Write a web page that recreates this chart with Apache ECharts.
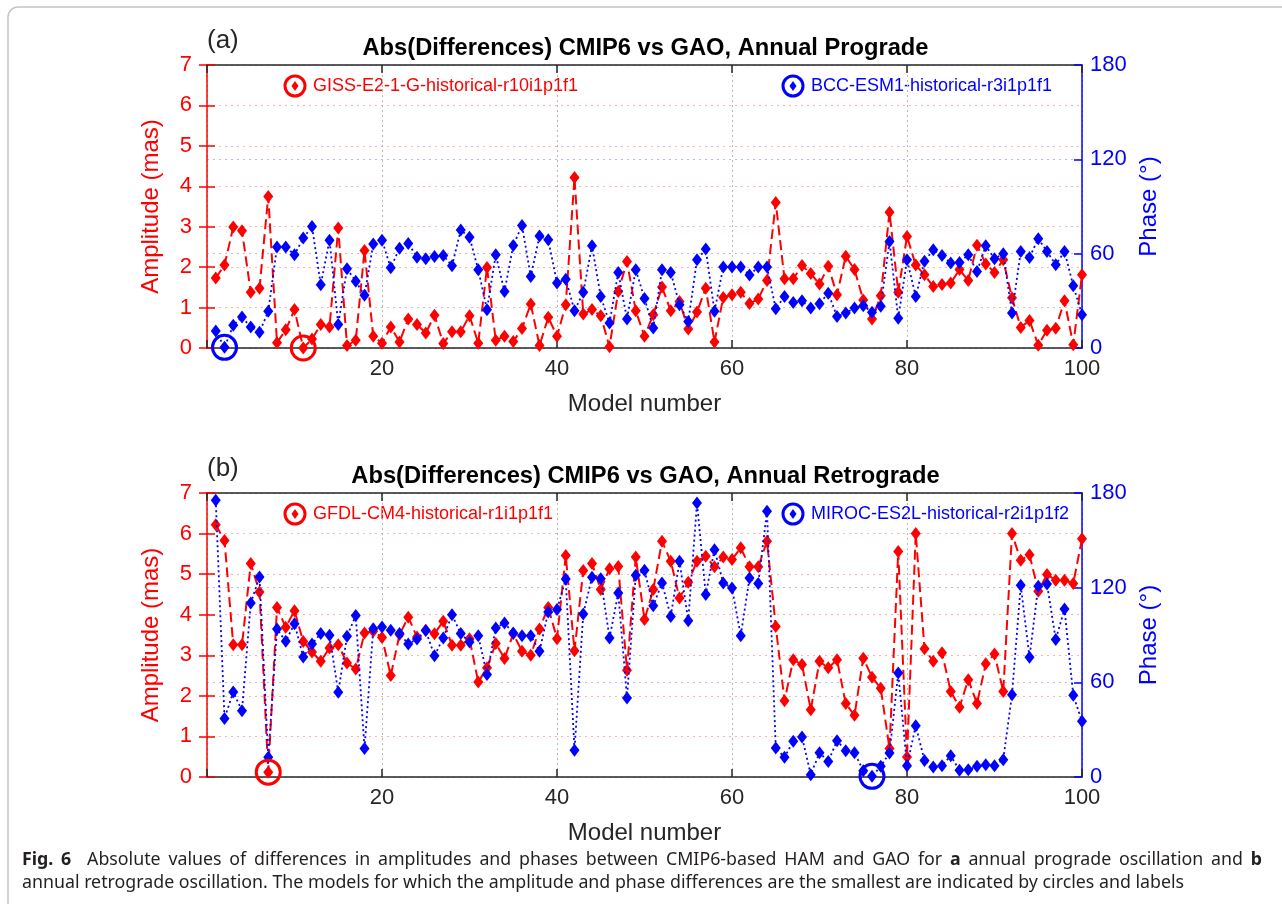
<!DOCTYPE html>
<html>
<head>
<meta charset="utf-8">
<title>Abs(Differences) CMIP6 vs GAO</title>
<script src="https://cdn.jsdelivr.net/npm/echarts@6/dist/echarts.min.js"></script>
<style>
  html, body { margin: 0; padding: 0; background: #ffffff; }
  #chart { width: 1282px; height: 904px; }
</style>
</head>
<body>
<div id="chart"></div>
<script>
// Model numbers 1..100
const models = [
  1,2,3,4,5,6,7,8,9,10,11,12,13,14,15,16,17,18,19,20,
  21,22,23,24,25,26,27,28,29,30,31,32,33,34,35,36,37,38,39,40,
  41,42,43,44,45,46,47,48,49,50,51,52,53,54,55,56,57,58,59,60,
  61,62,63,64,65,66,67,68,69,70,71,72,73,74,75,76,77,78,79,80,
  81,82,83,84,85,86,87,88,89,90,91,92,93,94,95,96,97,98,99,100
];

// (a) Annual prograde: |amplitude difference| (mas)
const progradeAmp = [
  1.73,2.05,2.99,2.90,1.38,1.48,3.75,0.13,0.45,0.95,
  0.00,0.22,0.58,0.52,2.97,0.06,0.19,2.41,0.29,0.12,
  0.52,0.15,0.72,0.58,0.37,0.81,0.11,0.40,0.40,0.80,
  0.12,1.99,0.19,0.29,0.16,0.48,1.09,0.06,0.76,0.29,
  1.07,4.22,0.84,0.95,0.80,0.03,1.40,2.14,0.92,0.29,
  0.82,1.51,0.92,1.15,0.47,0.89,1.48,0.15,1.25,1.32,
  1.38,1.10,1.21,1.67,3.60,1.71,1.71,2.04,1.84,1.58,
  2.02,1.32,2.27,1.94,1.19,0.72,1.29,3.36,1.38,2.76,
  2.05,1.81,1.52,1.57,1.61,1.94,1.67,2.54,2.08,1.87,
  2.18,1.24,0.51,0.68,0.07,0.44,0.49,1.17,0.08,1.81
];

// (a) Annual prograde: |phase difference| (deg)
const progradePhase = [
  10.8,0.4,14.4,19.7,13.3,10.0,23.3,64.2,64.2,59.3,
  69.9,77.3,40.2,68.6,15.0,50.4,42.4,33.5,66.1,68.6,
  51.0,63.5,66.5,57.8,56.8,58.2,58.9,52.3,75.0,70.5,
  49.8,24.4,59.3,36.0,65.2,77.9,45.5,71.2,68.8,41.3,
  43.8,23.7,35.4,65.0,32.8,15.9,48.1,18.4,49.8,31.5,
  12.7,49.8,48.1,27.5,16.9,56.1,62.9,23.3,51.5,51.5,
  51.5,46.4,51.5,51.5,25.0,32.8,29.0,30.1,25.4,28.2,
  34.9,20.1,22.2,25.4,26.9,22.7,26.5,67.8,18.9,56.1,
  32.8,55.1,62.5,58.9,54.0,54.4,59.3,48.7,65.0,56.8,
  59.9,22.2,61.4,57.6,69.5,61.4,53.0,61.4,39.6,21.2
];

// (b) Annual retrograde: |amplitude difference| (mas)
const retrogradeAmp = [
  6.22,5.83,3.26,3.26,5.26,4.56,0.12,4.18,3.69,4.10,
  3.34,3.08,2.85,3.18,3.26,2.81,2.66,3.55,3.59,3.44,
  2.50,3.51,3.94,3.45,3.62,3.53,3.84,3.25,3.25,3.41,
  2.34,2.69,3.29,2.92,3.53,3.10,3.00,3.65,4.18,3.41,
  5.46,3.11,5.09,5.26,4.62,5.13,5.19,2.63,5.42,3.88,
  4.62,5.81,5.32,4.41,4.80,5.32,5.44,5.18,5.42,5.36,
  5.65,5.18,5.18,5.81,3.71,1.88,2.89,2.77,1.66,2.85,
  2.69,2.89,1.81,1.52,2.93,2.46,2.19,0.70,5.56,0.49,
  6.00,3.16,2.85,3.06,2.11,1.72,2.40,1.81,2.79,3.03,
  2.11,6.00,5.34,5.48,4.58,4.99,4.85,4.85,4.77,5.87
];

// (b) Annual retrograde: |phase difference| (deg)
const retrogradePhase = [
  175.4,37.0,53.9,42.0,110.3,126.8,12.5,93.8,86.0,97.2,
  76.1,84.3,90.9,89.8,53.7,89.2,102.3,18.0,94.0,95.1,
  93.0,90.9,84.3,87.5,92.8,76.9,88.1,102.9,90.9,85.6,
  89.6,64.9,94.5,97.6,91.3,89.6,89.6,79.7,104.6,106.1,
  125.5,16.9,103.3,126.6,125.7,88.1,116.6,50.1,127.8,131.0,
  108.6,123.0,101.8,136.7,99.1,173.7,115.6,144.1,123.0,119.8,
  89.6,126.1,122.6,168.4,18.4,12.5,22.6,25.4,1.5,15.4,
  9.9,23.0,16.7,15.4,4.0,0.4,6.8,15.2,65.9,7.2,
  32.5,10.4,6.3,7.2,13.5,4.2,4.6,6.8,7.8,7.2,
  11.0,52.2,121.5,75.9,120.9,122.3,87.1,106.5,51.8,35.3
];

// Axis ticks
const xTicks = [0, 20, 40, 60, 80, 100];
const ampTicks = [0, 1, 2, 3, 4, 5, 6, 7];
const phaseTicks = [0, 60, 120, 180];

// Panel texts
const panelLetters = ['(a)', '(b)'];
const panelTitles = [
  'Abs(Differences) CMIP6 vs GAO, Annual Prograde',
  'Abs(Differences) CMIP6 vs GAO, Annual Retrograde'
];
const bestAmpModel = ['GISS-E2-1-G-historical-r10i1p1f1', 'GFDL-CM4-historical-r1i1p1f1'];
const bestPhaseModel = ['BCC-ESM1-historical-r3i1p1f1', 'MIROC-ES2L-historical-r2i1p1f2'];

// Caption (words wrapped in * are bold)
const captionLine1 = '*Fig.* *6* Absolute values of differences in amplitudes and phases between CMIP6-based HAM and GAO for *a* annual prograde oscillation and *b*';
const captionLine2 = 'annual retrograde oscillation. The models for which the amplitude and phase differences are the smallest are indicated by circles and labels';

const RED = '#ff0000';
const BLUE = '#0000ff';
const INK = '#262626';
const FONT = '"Liberation Sans", Arial, Helvetica, sans-serif';
const CAP_FONT = '"Noto Sans", "Open Sans", sans-serif';
const CAP_SIZE = 17.8;

const panels = [
  { top: 65, height: 283, amp: progradeAmp, phase: progradePhase },
  { top: 493, height: 284, amp: retrogradeAmp, phase: retrogradePhase }
];
const GRID_LEFT = 207, GRID_W = 875;

function pairs(values) { return models.map((m, i) => [m, values[i]]); }
function argMin(values) {
  let k = 0;
  values.forEach((v, i) => { if (v < values[k]) k = i; });
  return k;
}

const grid = [], xAxis = [], yAxis = [], series = [], graphic = [];

panels.forEach((p, g) => {
  grid.push({ left: GRID_LEFT, top: p.top, width: GRID_W, height: p.height, containLabel: false });

  // bottom axis with labels
  xAxis.push({
    gridIndex: g, type: 'value', position: 'bottom',
    min: xTicks[0], max: xTicks[xTicks.length - 1], interval: xTicks[1] - xTicks[0],
    name: 'Model number', nameLocation: 'middle', nameGap: 44,
    nameTextStyle: { color: INK, fontSize: 24, fontFamily: FONT },
    axisLine: { show: true, onZero: false, lineStyle: { color: INK, width: 1.5 } },
    axisTick: { show: true, inside: true, length: 8, lineStyle: { color: INK, width: 1.5 } },
    axisLabel: { color: INK, fontSize: 22, fontFamily: FONT, margin: 10,
                 formatter: v => (v === 0 ? '' : String(v)) },
    splitLine: { show: true, lineStyle: { color: '#b8b8b8', type: [2, 3], width: 1 } }
  });
  // top frame edge
  xAxis.push({
    gridIndex: g, type: 'value', position: 'top',
    min: xTicks[0], max: xTicks[xTicks.length - 1], interval: xTicks[1] - xTicks[0],
    axisLine: { show: true, onZero: false, lineStyle: { color: INK, width: 1.5 } },
    axisTick: { show: true, inside: true, length: 8, lineStyle: { color: INK, width: 1.5 } },
    axisLabel: { show: false }, splitLine: { show: false }
  });

  const yBase = yAxis.length;
  // left: amplitude
  yAxis.push({
    gridIndex: g, type: 'value', position: 'left',
    min: ampTicks[0], max: ampTicks[ampTicks.length - 1], interval: 1,
    name: 'Amplitude (mas)', nameLocation: 'middle', nameGap: 44, nameRotate: 90,
    nameTextStyle: { color: RED, fontSize: 24, fontFamily: FONT },
    axisLine: { show: true, onZero: false, lineStyle: { color: RED, width: 1.5 } },
    axisTick: { show: true, inside: true, length: 8, lineStyle: { color: RED, width: 1.5 } },
    axisLabel: { color: RED, fontSize: 22, fontFamily: FONT, margin: 15 },
    splitLine: { show: true, lineStyle: { color: '#f7b5b5', type: [2, 4], width: 1 } }
  });
  // right: phase
  yAxis.push({
    gridIndex: g, type: 'value', position: 'right',
    min: phaseTicks[0], max: phaseTicks[phaseTicks.length - 1], interval: 60,
    name: 'Phase (°)', nameLocation: 'middle', nameGap: 47, nameRotate: 90,
    nameTextStyle: { color: BLUE, fontSize: 24, fontFamily: FONT },
    axisLine: { show: true, onZero: false, lineStyle: { color: BLUE, width: 1.5 } },
    axisTick: { show: true, inside: true, length: 8, lineStyle: { color: BLUE, width: 1.5 } },
    axisLabel: { color: BLUE, fontSize: 22, fontFamily: FONT, margin: 8 },
    splitLine: { show: true, lineStyle: { color: '#b9b9f5', type: [2, 4], width: 1 } }
  });

  const kAmp = argMin(p.amp);
  const kPh = argMin(p.phase);

  series.push({
    type: 'line', xAxisIndex: 2 * g, yAxisIndex: yBase,
    data: pairs(p.amp), symbol: 'diamond', symbolSize: [10, 13], showSymbol: true,
    lineStyle: { color: RED, width: 2, type: [10, 5] },
    itemStyle: { color: RED }, z: 3,
    markPoint: {
      symbol: 'circle', symbolSize: 24, silent: true,
      itemStyle: { color: 'rgba(0,0,0,0)', borderColor: RED, borderWidth: 3 },
      label: { show: false },
      data: [{ coord: [models[kAmp], p.amp[kAmp]] }]
    }
  });
  series.push({
    type: 'line', xAxisIndex: 2 * g, yAxisIndex: yBase + 1,
    data: pairs(p.phase), symbol: 'diamond', symbolSize: [10, 13], showSymbol: true,
    lineStyle: { color: BLUE, width: 1.8, type: [2, 3] },
    itemStyle: { color: BLUE }, z: 4,
    markPoint: {
      symbol: 'circle', symbolSize: 24, silent: true,
      itemStyle: { color: 'rgba(0,0,0,0)', borderColor: BLUE, borderWidth: 3 },
      label: { show: false },
      data: [{ coord: [models[kPh], p.phase[kPh]] }]
    }
  });

  // panel letter and title
  graphic.push({ type: 'text', x: 207, y: p.top - 24,
    style: { text: panelLetters[g], font: '26px ' + FONT, fill: INK, textVerticalAlign: 'middle' } });
  graphic.push({ type: 'text', x: GRID_LEFT + GRID_W / 2 + 1, y: p.top - 17,
    style: { text: panelTitles[g], font: 'bold 23.7px ' + FONT, fill: '#000',
             textAlign: 'center', textVerticalAlign: 'middle' } });

  // legend entries: ringed diamond + model name
  const legendY = p.top + 21;
  [[295, RED, bestAmpModel[g]], [793, BLUE, bestPhaseModel[g]]].forEach(([cx, col, txt]) => {
    graphic.push({ type: 'circle', shape: { cx: cx, cy: legendY, r: 10 },
      style: { fill: 'none', stroke: col, lineWidth: 3 } });
    graphic.push({ type: 'polygon',
      shape: { points: [[cx, legendY - 5], [cx + 3.5, legendY], [cx, legendY + 5], [cx - 3.5, legendY]] },
      style: { fill: col } });
    graphic.push({ type: 'text', x: cx + 18, y: legendY,
      style: { text: txt, font: '18px ' + FONT, fill: col, textVerticalAlign: 'middle' } });
  });
});

// Overlay grids: amplitude ticks repeated along the right edge of each panel
panels.forEach((p, g) => {
  const gi = grid.length;
  grid.push({ left: GRID_LEFT, top: p.top, width: GRID_W, height: p.height, containLabel: false });
  xAxis.push({ gridIndex: gi, type: 'value', min: 0, max: 100, show: false });
  yAxis.push({
    gridIndex: gi, type: 'value', position: 'right',
    min: ampTicks[0], max: ampTicks[ampTicks.length - 1], interval: 1,
    axisLine: { show: false },
    axisTick: { show: true, inside: true, length: 8, lineStyle: { color: RED, width: 1.5 } },
    axisLabel: { show: false }, splitLine: { show: false }
  });
});

// Outer frame
graphic.push({ type: 'rect', shape: { x: 8, y: 7, width: 1300, height: 920, r: 10 },
  style: { fill: 'none', stroke: '#c4c4c4', lineWidth: 1.5 }, z: -1 });

// Caption: first line justified to the frame width, second line ragged
(function () {
  const ctx = document.createElement('canvas').getContext('2d');
  const fontFor = b => (b ? 'bold ' : '') + CAP_SIZE + 'px ' + CAP_FONT;
  const words = captionLine1.split(' ').map(w => {
    const bold = w.startsWith('*') && w.endsWith('*');
    const t = bold ? w.slice(1, -1) : w;
    ctx.font = fontFor(bold);
    return { t: t, bold: bold, w: ctx.measureText(t).width };
  });
  const x0 = 22, x1 = 1262, extraAfterLabel = 8;
  const total = words.reduce((s, w) => s + w.w, 0);
  const gap = (x1 - x0 - total - extraAfterLabel) / (words.length - 1);
  let x = x0;
  words.forEach((w, i) => {
    graphic.push({ type: 'text', x: x, y: 860,
      style: { text: w.t, font: fontFor(w.bold), fill: '#231f20', textVerticalAlign: 'middle' } });
    x += w.w + gap + (i === 1 ? extraAfterLabel : 0);
  });
  graphic.push({ type: 'text', x: x0, y: 883,
    style: { text: captionLine2, font: fontFor(false), fill: '#231f20', textVerticalAlign: 'middle' } });
})();

const chart = echarts.init(document.getElementById('chart'), null, { renderer: 'canvas' });
chart.setOption({
  animation: false,
  backgroundColor: '#ffffff',
  grid: grid,
  xAxis: xAxis,
  yAxis: yAxis,
  series: series,
  graphic: graphic
});
</script>
</body>
</html>
